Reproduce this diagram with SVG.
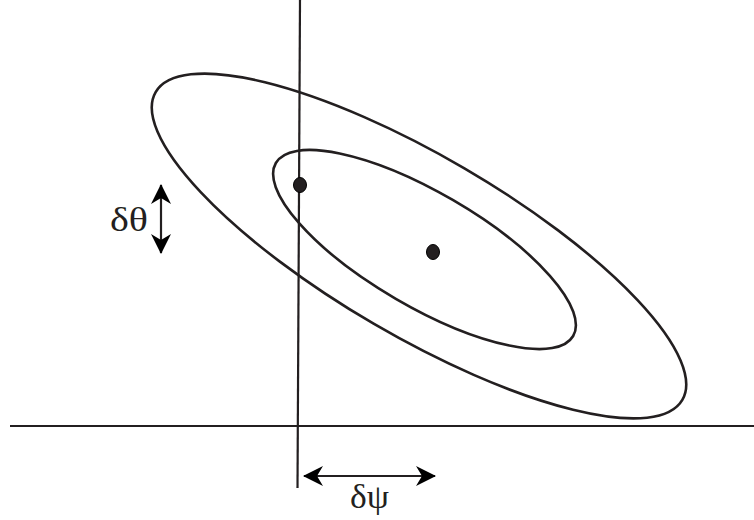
<svg xmlns="http://www.w3.org/2000/svg" width="754" height="520" viewBox="0 0 754 520">
<style>
.ln{stroke:#231f20;stroke-width:2.2;fill:none}
.el{stroke:#231f20;stroke-width:2.6;fill:none}
.dot{fill:#231f20;stroke:#000;stroke-width:1}
.lbl{font-family:"Liberation Serif","DejaVu Serif","Times New Roman",serif;font-size:33px;fill:#231f20}
</style>
<defs>
<marker id="ah" viewBox="0 0 20 20" refX="19" refY="10" markerWidth="20" markerHeight="20" markerUnits="userSpaceOnUse" orient="auto-start-reverse">
<path d="M0,0 L20,10 L0,20 L6,10 Z" fill="#000"/>
</marker>
</defs>
<rect width="754" height="520" fill="#fff"/>
<g id="axes">
<line class="ln" x1="10" y1="426" x2="754" y2="426"/>
<line class="ln" x1="300" y1="0" x2="297.5" y2="488"/>
</g>
<g id="outer-ellipse">
<ellipse class="el" cx="419" cy="246" rx="305" ry="90" transform="rotate(30.3 419 246)"/>
</g>
<g id="inner-ellipse">
<ellipse class="el" cx="424.5" cy="249.5" rx="172" ry="57" transform="rotate(30.2 424.5 249.5)"/>
</g>
<g id="dot1"><ellipse class="dot" cx="300" cy="185" rx="6.5" ry="7.5"/></g>
<g id="dot2"><ellipse class="dot" cx="433" cy="252" rx="6.5" ry="7.5"/></g>
<g id="connectors">
<line class="ln" x1="161" y1="185" x2="161" y2="253" marker-start="url(#ah)" marker-end="url(#ah)"/>
<line class="ln" x1="304" y1="476" x2="435" y2="476" marker-start="url(#ah)" marker-end="url(#ah)"/>
</g>
<g id="label-theta"><text class="lbl" x="110" y="231" textLength="38" lengthAdjust="spacingAndGlyphs">δθ</text></g>
<g id="label-psi"><text class="lbl" x="350" y="508" textLength="39" lengthAdjust="spacingAndGlyphs">δψ</text></g>
</svg>
